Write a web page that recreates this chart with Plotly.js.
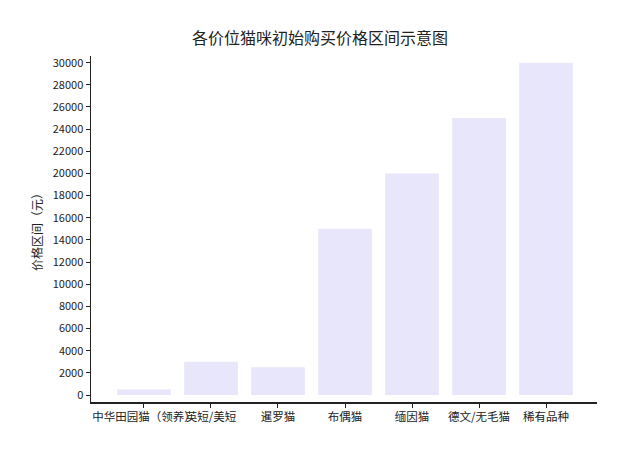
<!DOCTYPE html>
<html>
<head>
<meta charset="utf-8">
<script src="https://cdn.plot.ly/plotly-3.0.1.min.js"></script>
<style>html,body{margin:0;padding:0;background:#fff;}#chart{width:640px;height:469px;}</style>
</head>
<body>
<div id="chart"></div>
<script>
const categories = ["中华田园猫（领养）", "英短/美短", "暹罗猫", "布偶猫", "缅因猫", "德文/无毛猫", "稀有品种"];
const prices = [500, 3000, 2500, 15000, 20000, 25000, 30000];
const yTicks = [0, 2000, 4000, 6000, 8000, 10000, 12000, 14000, 16000, 18000, 20000, 22000, 24000, 26000, 28000, 30000];

const font = "Noto Sans CJK SC, sans-serif";
Plotly.newPlot("chart", [{
  type: "bar",
  x: categories.map((c, i) => i),
  y: prices,
  width: 0.8,
  marker: {color: "#E8E6FA"},
  hoverinfo: "skip"
}], {
  width: 640, height: 469,
  margin: {l: 91, r: 43, t: 56, b: 67},
  paper_bgcolor: "#ffffff", plot_bgcolor: "#ffffff",
  font: {family: font, color: "#222", size: 11},
  title: {text: "各价位猫咪初始购买价格区间示意图", x: 0.5, xanchor: "center", y: 0.919, yanchor: "middle", font: {family: font, size: 16, color: "#222"}},
  showlegend: false,
  xaxis: {
    range: [-0.79, 6.76],
    tickmode: "array", tickvals: categories.map((c, i) => i), ticktext: categories,
    showline: true, linecolor: "#222", linewidth: 1.5,
    ticks: "outside", ticklen: 4, tickcolor: "#222", tickwidth: 1,
    showgrid: false, zeroline: false, tickangle: 0,
    tickfont: {family: font, size: 11.5, color: "#222"}
  },
  yaxis: {
    range: [-630, 30600],
    tickmode: "array", tickvals: yTicks, ticktext: yTicks.map(String),
    showline: true, linecolor: "#222", linewidth: 1.5,
    ticks: "outside", ticklen: 4, tickcolor: "#222", tickwidth: 1,
    showgrid: false, zeroline: false,
    tickfont: {family: font, size: 11, color: "#222"},
    title: {text: "价格区间（元）", standoff: 7, font: {family: font, size: 12, color: "#222"}}
  }
}, {displayModeBar: false, staticPlot: true});
</script>
</body>
</html>
